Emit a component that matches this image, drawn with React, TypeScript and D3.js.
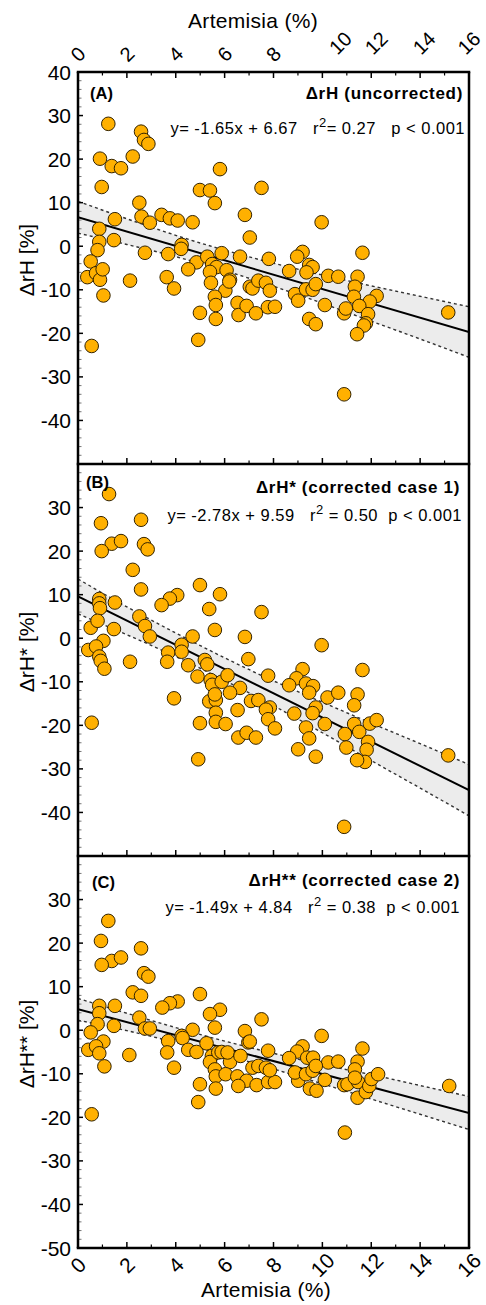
import React from "react";
import * as d3 from "d3";

const W = 486;
const H = 1305;
const plotLeft = 78;
const plotRight = 469;
const panelTops = [72, 464, 856];
const panelH = 392;
const FONT = "'Liberation Sans', Arial, Helvetica, sans-serif";

// x axis (Artemisia %)
const xTicks = [0, 2, 4, 6, 8, 10, 12, 14, 16];
const xMinor = [1, 3, 5, 7, 9, 11, 13, 15];
const yDomain: [number, number] = [-50, 40];

// confidence band, read at these x positions
const bandX = [0, 2, 4, 6, 8, 10, 12, 14, 16];

// ---- panel A: ΔrH (uncorrected)
const pointsA: [number, number][] = [
  [1.24, 28.1], [2.58, 26.3], [2.7, 24.4], [2.88, 23.5], [0.9, 20.1], [2.24, 20.6],
  [1.38, 18.4], [1.76, 17.9], [5.81, 17.7], [0.97, 13.6], [4.99, 12.9], [5.4, 12.8],
  [5.6, 9.9], [2.51, 10.0], [3.42, 7.2], [3.76, 6.4], [4.08, 5.9], [2.6, 6.8],
  [2.94, 5.4], [1.51, 6.2], [4.69, 5.5], [6.83, 7.2], [0.87, 4.0], [0.87, 1.0],
  [1.47, 1.4], [0.8, -0.9], [4.24, 0.3], [4.22, -0.6], [2.74, -1.5], [3.69, -1.8],
  [5.88, -1.6], [6.63, -2.4], [0.52, -3.5], [4.85, -3.7], [5.29, -2.4], [5.49, -4.1],
  [5.67, -4.8], [5.4, -5.9], [6.08, -5.5], [6.22, -7.7], [4.51, -5.3], [0.38, -7.1],
  [0.74, -6.2], [0.9, -7.7], [1.01, -5.3], [3.63, -7.1], [5.44, -8.4], [2.13, -7.9],
  [3.93, -9.7], [6.03, -10.2], [1.04, -11.3], [5.6, -11.6], [5.64, -13.5], [5.64, -16.7],
  [4.99, -15.3], [6.53, -13.0], [6.57, -15.8], [6.9, -13.7], [4.92, -21.5], [0.56, -22.9],
  [7.03, -9.3], [7.51, 13.4], [7.03, 2.0], [9.97, 5.5], [11.64, -1.5], [7.81, -2.9],
  [9.19, -1.3], [8.97, -2.4], [9.46, -4.3], [9.6, -4.8], [8.64, -5.7], [9.35, -6.0],
  [10.24, -6.8], [10.65, -7.0], [11.44, -7.0], [7.14, -9.7], [7.38, -7.9], [7.69, -8.4],
  [7.85, -10.2], [8.88, -11.0], [9.01, -12.5], [9.33, -9.9], [9.6, -10.0], [9.73, -8.7],
  [11.33, -9.3], [11.29, -11.6], [12.22, -11.4], [11.94, -12.7], [10.1, -13.5], [7.77, -14.0],
  [8.06, -13.9], [15.15, -15.2], [7.28, -15.4], [9.46, -16.7], [9.73, -17.9], [10.89, -15.4],
  [10.96, -14.3], [11.51, -13.7], [11.87, -15.6], [11.78, -17.7], [11.7, -18.2], [11.42, -20.2],
  [10.89, -34.0], [6.19, -8.1],
];
const fitA = { slope: -1.65, intercept: 6.67 };
const upperA = [10.3, 6.3, 2.5, -0.9, -3.9, -6.6, -9.1, -11.5, -13.9];
const lowerA = [3.0, 0.4, -2.4, -5.6, -9.2, -13.1, -17.2, -21.3, -25.5];

// ---- panel B: ΔrH* (corrected case 1)
const pointsB: [number, number][] = [
  [1.27, 33.1], [0.94, 26.4], [2.58, 27.2], [1.38, 21.7], [1.76, 22.3], [0.97, 20.0],
  [2.7, 21.6], [2.85, 20.4], [2.24, 15.7], [2.58, 11.2], [4.99, 12.2], [5.81, 10.1],
  [4.06, 9.9], [3.76, 9.1], [3.42, 7.6], [0.87, 9.0], [0.87, 8.0], [0.9, 6.9],
  [1.51, 8.2], [5.37, 6.7], [2.51, 5.0], [2.74, 2.8], [2.94, 0.4], [5.6, 1.9],
  [4.69, 0.4], [0.52, 2.4], [0.8, 4.0], [1.47, 2.1], [6.83, 0.3], [1.04, -0.6],
  [0.42, -2.7], [0.74, -1.9], [0.87, -4.2], [0.93, -5.2], [1.08, -7.0], [2.13, -5.4],
  [3.69, -3.3], [3.65, -5.4], [4.24, -1.5], [4.24, -3.1], [4.51, -6.2], [5.19, -5.0],
  [5.29, -6.0], [4.89, -8.8], [5.43, -9.6], [5.49, -10.7], [5.88, -10.0], [6.12, -8.5],
  [6.97, -4.8], [6.63, -11.4], [0.56, -19.4], [3.93, -13.8], [5.37, -14.5], [5.64, -14.2],
  [5.6, -12.9], [5.64, -17.1], [5.64, -19.2], [4.99, -19.5], [6.04, -19.7], [4.92, -27.8],
  [6.22, -12.5], [6.53, -16.5], [6.56, -22.8], [6.9, -21.7], [7.08, -14.4], [7.51, 6.0],
  [9.97, -1.6], [11.64, -7.3], [7.78, -8.6], [9.19, -7.1], [8.94, -9.2], [9.33, -10.4],
  [8.64, -10.8], [9.62, -11.0], [7.38, -14.2], [7.85, -15.9], [7.69, -16.4], [7.78, -18.6],
  [8.06, -20.7], [7.28, -22.8], [9.46, -12.5], [10.21, -13.6], [10.65, -12.5], [11.44, -12.9],
  [11.3, -15.4], [9.73, -15.9], [9.6, -17.2], [8.85, -17.3], [9.33, -20.5], [9.46, -23.0],
  [9.01, -25.5], [9.73, -27.2], [10.1, -19.7], [10.92, -22.0], [10.98, -25.1], [11.3, -19.7],
  [11.51, -21.5], [11.94, -19.6], [12.22, -18.8], [11.87, -23.8], [11.81, -25.6], [11.74, -28.4],
  [11.42, -28.0], [10.89, -43.3], [15.15, -26.9],
];
const fitB = { slope: -2.78, intercept: 9.59 };
const upperB = [13.6, 7.2, 1.2, -4.5, -9.8, -14.7, -19.5, -24.2, -29.0];
const lowerB = [5.6, 0.8, -4.2, -9.7, -15.5, -21.7, -28.1, -34.4, -40.8];

// ---- panel C: ΔrH** (corrected case 2)
const pointsC: [number, number][] = [
  [1.24, 25.1], [0.94, 20.5], [2.58, 18.8], [1.38, 15.9], [1.76, 16.7], [0.97, 15.0],
  [2.7, 13.1], [2.88, 12.3], [2.24, 8.7], [2.58, 7.9], [4.99, 8.3], [5.81, 4.7],
  [4.08, 6.6], [3.76, 6.2], [3.45, 5.2], [0.87, 5.6], [0.87, 3.9], [1.51, 5.6],
  [5.4, 3.7], [2.51, 2.9], [0.8, 1.4], [1.47, 1.0], [2.74, 0.4], [2.94, 0.4],
  [5.6, 0.6], [4.69, 0.1], [6.83, -0.2], [0.52, -0.5], [1.04, -2.6], [0.42, -4.5],
  [0.74, -3.7], [0.87, -5.3], [1.08, -8.3], [2.1, -5.7], [3.69, -2.5], [3.65, -5.1],
  [4.24, -1.3], [4.28, -1.8], [4.51, -4.5], [4.85, -5.0], [5.26, -3.0], [5.48, -5.9],
  [5.4, -7.3], [5.74, -5.1], [5.88, -5.0], [6.22, -7.3], [6.12, -5.1], [6.65, -5.9],
  [6.97, -2.8], [3.93, -8.6], [5.6, -9.0], [5.64, -10.6], [6.04, -10.1], [6.52, -10.6],
  [6.9, -11.6], [4.99, -12.4], [0.56, -19.3], [4.92, -16.5], [5.64, -13.4], [6.56, -12.8],
  [7.31, -12.6], [7.78, -11.9], [8.06, -11.9], [9.01, -11.6], [9.49, -13.4], [9.76, -13.9],
  [10.89, -12.6], [11.03, -12.4], [10.92, -23.5], [11.46, -11.9], [11.44, -15.5], [11.78, -14.2],
  [11.92, -12.8], [12.01, -11.2], [15.19, -12.8], [7.51, 2.5], [7.03, -2.6], [9.97, -1.3],
  [11.64, -4.2], [7.78, -4.7], [9.19, -3.7], [8.97, -4.9], [9.38, -6.3], [9.62, -6.3],
  [8.64, -6.4], [10.24, -7.4], [10.65, -7.2], [11.44, -7.2], [11.33, -9.0], [12.28, -10.1],
  [7.14, -8.6], [7.38, -8.2], [7.69, -8.6], [7.85, -9.2], [8.88, -9.7], [9.33, -10.1],
  [9.6, -9.3], [9.73, -8.2], [10.1, -11.4], [11.33, -10.9],
];
const fitC = { slope: -1.49, intercept: 4.84 };
const upperC = [7.3, 3.9, 0.6, -2.5, -5.3, -7.9, -10.2, -12.7, -15.2];
const lowerC = [2.3, -0.1, -2.8, -5.7, -8.9, -12.3, -15.8, -19.3, -22.8];

const panels = [
  {
    id: "A", tag: "(A)", title: "ΔrH (uncorrected)", yLabel: "ΔrH [%]",
    eq: "y= -1.65x + 6.67   r", r2: "= 0.27", p: "   p < 0.001",
    points: pointsA, fit: fitA, upper: upperA, lower: lowerA,
    yLabels: [40, 30, 20, 10, 0, -10, -20, -30, -40],
    tagPos: [90, 99], titlePos: [463, 99], eqPos: [465, 134],
  },
  {
    id: "B", tag: "(B)", title: "ΔrH* (corrected case 1)", yLabel: "ΔrH* [%]",
    eq: "y= -2.78x + 9.59   r", r2: " = 0.50", p: "  p < 0.001",
    points: pointsB, fit: fitB, upper: upperB, lower: lowerB,
    yLabels: [30, 20, 10, 0, -10, -20, -30, -40],
    tagPos: [86, 488], titlePos: [460, 493], eqPos: [462, 521],
  },
  {
    id: "C", tag: "(C)", title: "ΔrH** (corrected case 2)", yLabel: "ΔrH** [%]",
    eq: "y= -1.49x + 4.84   r", r2: " = 0.38", p: "  p < 0.001",
    points: pointsC, fit: fitC, upper: upperC, lower: lowerC,
    yLabels: [30, 20, 10, 0, -10, -20, -30, -40, -50],
    tagPos: [92, 888], titlePos: [460, 886], eqPos: [460, 913],
  },
];

const x = d3.scaleLinear().domain([0, 16]).range([plotLeft, plotRight]);

// top labels sit a bit off their ticks in the original
const topLabelShift: Record<number, number> = { 10: 18, 12: 5, 14: 4, 16: 0 };

function Panel({ p, top }: { p: (typeof panels)[number]; top: number }) {
  const y = d3.scaleLinear().domain(yDomain).range([top + panelH, top]);
  const band = bandX.map((bx, i) => ({ x: bx, hi: p.upper[i], lo: p.lower[i] }));
  const area = d3
    .area<{ x: number; hi: number; lo: number }>()
    .x((d) => x(d.x))
    .y0((d) => y(d.lo))
    .y1((d) => y(d.hi))
    .curve(d3.curveNatural);
  const edge = (key: "hi" | "lo") =>
    d3
      .line<{ x: number; hi: number; lo: number }>()
      .x((d) => x(d.x))
      .y((d) => y(d[key]))
      .curve(d3.curveNatural)(band) || "";
  const fitLine = d3
    .line<number>()
    .x((d) => x(d))
    .y((d) => y(p.fit.intercept + p.fit.slope * d))([0, 16]) || "";
  const majorY = d3.range(-50, 41, 10);
  const minorY = d3.range(-50, 41, 2).filter((v) => v % 10 !== 0);
  const clipId = `clip-${p.id}`;
  const bottom = top + panelH;
  const midY = top + panelH / 2 - 8;

  return (
    <g>
      <defs>
        <clipPath id={clipId}>
          <rect x={plotLeft} y={top} width={plotRight - plotLeft} height={panelH} />
        </clipPath>
      </defs>
      <g clipPath={`url(#${clipId})`}>
        <path d={area(band) || ""} fill="#ececec" />
        <path d={edge("hi")} fill="none" stroke="#333" strokeWidth={1.4} strokeDasharray="3,3" />
        <path d={edge("lo")} fill="none" stroke="#333" strokeWidth={1.4} strokeDasharray="3,3" />
        <path d={fitLine} fill="none" stroke="#000" strokeWidth={2} />
      </g>
      {p.points.map(([px, py], i) => (
        <circle key={i} cx={x(px)} cy={y(py)} r={6.8} fill="#ffb000" stroke="#332300" strokeWidth={1} />
      ))}

      {/* y ticks */}
      {majorY.map((v) => (
        <line key={`M${v}`} x1={plotLeft} x2={plotLeft + 5} y1={y(v)} y2={y(v)} stroke="#000" strokeWidth={1.5} />
      ))}
      {minorY.map((v) => (
        <line key={`m${v}`} x1={plotLeft} x2={plotLeft + 3.5} y1={y(v)} y2={y(v)} stroke="#777" strokeWidth={1} />
      ))}
      {p.yLabels.map((v) => (
        <text key={`L${v}`} x={71} y={y(v)} textAnchor="end" dominantBaseline="central" fontSize={21} fontFamily={FONT}>
          {v}
        </text>
      ))}

      {/* x ticks on bottom edge, pointing up */}
      {xTicks.map((t) => (
        <line key={`xt${t}`} x1={x(t)} x2={x(t)} y1={bottom} y2={bottom - 6} stroke="#000" strokeWidth={1.5} />
      ))}
      {xMinor.map((t) => (
        <line key={`xm${t}`} x1={x(t)} x2={x(t)} y1={bottom} y2={bottom - 3.5} stroke="#000" strokeWidth={1.2} />
      ))}

      {/* frame */}
      <line x1={plotLeft} x2={plotLeft} y1={top} y2={bottom} stroke="#000" strokeWidth={2.5} />
      <line x1={plotRight} x2={plotRight} y1={top} y2={bottom} stroke="#000" strokeWidth={2.5} />
      <line x1={plotLeft - 1.25} x2={plotRight + 1.25} y1={bottom} y2={bottom} stroke="#000" strokeWidth={2.5} />

      <text x={p.tagPos[0]} y={p.tagPos[1]} fontSize={16.5} fontWeight="bold" fontFamily={FONT}>
        {p.tag}
      </text>
      <text
        x={p.titlePos[0]}
        y={p.titlePos[1]}
        textAnchor="end"
        fontSize={17}
        fontWeight="bold"
        letterSpacing={0.7}
        fontFamily={FONT}
      >
        {p.title}
      </text>
      <text
        x={p.eqPos[0]}
        y={p.eqPos[1]}
        textAnchor="end"
        fontSize={16.5}
        letterSpacing={0.5}
        fontFamily={FONT}
        style={{ whiteSpace: "pre" }}
      >
        {p.eq}
        <tspan dy={-7} fontSize={13}>2</tspan>
        <tspan dy={7}>{p.r2}</tspan>
        {p.p}
      </text>
      <text
        transform={`translate(26,${midY}) rotate(-90)`}
        textAnchor="middle"
        dominantBaseline="central"
        fontSize={21}
        fontFamily={FONT}
      >
        {p.yLabel}
      </text>
    </g>
  );
}

export default function App() {
  const top = panelTops[0];
  const last = panelTops[2] + panelH;
  return (
    <svg width={W} height={H} style={{ position: "absolute", left: 0, top: 0, background: "#fff" }}>
      <rect width={W} height={H} fill="#fff" />
      {panels.map((p, i) => (
        <Panel key={p.id} p={p} top={panelTops[i]} />
      ))}

      {/* top axis */}
      <line x1={plotLeft - 1.25} x2={plotRight + 1.25} y1={top} y2={top} stroke="#000" strokeWidth={2.5} />
      {xTicks.map((t) => (
        <line key={`tt${t}`} x1={x(t)} x2={x(t)} y1={top} y2={top + 6} stroke="#000" strokeWidth={1.5} />
      ))}
      {xMinor.map((t) => (
        <line key={`tm${t}`} x1={x(t)} x2={x(t)} y1={top} y2={top + 3.5} stroke="#000" strokeWidth={1.2} />
      ))}
      {xTicks.map((t) => {
        const two = String(t).length > 1;
        return (
          <text
            key={`tl${t}`}
            transform={`translate(${x(t) + (topLabelShift[t] || 0)},${two ? 43 : 54}) rotate(-45)`}
            textAnchor="middle"
            dominantBaseline="central"
            fontSize={20}
            fontFamily={FONT}
          >
            {t}
          </text>
        );
      })}
      <text x={253} y={28} textAnchor="middle" fontSize={21} letterSpacing={0.3} fontFamily={FONT}>
        Artemisia (%)
      </text>

      {/* bottom axis labels */}
      {xTicks.map((t) => (
        <text
          key={`bl${t}`}
          transform={`translate(${x(t)},${last + 17}) rotate(-45)`}
          textAnchor="middle"
          dominantBaseline="central"
          fontSize={21}
          fontFamily={FONT}
        >
          {t}
        </text>
      ))}
      <text x={266} y={1297} textAnchor="middle" fontSize={21} letterSpacing={0.3} fontFamily={FONT}>
        Artemisia (%)
      </text>
    </svg>
  );
}
